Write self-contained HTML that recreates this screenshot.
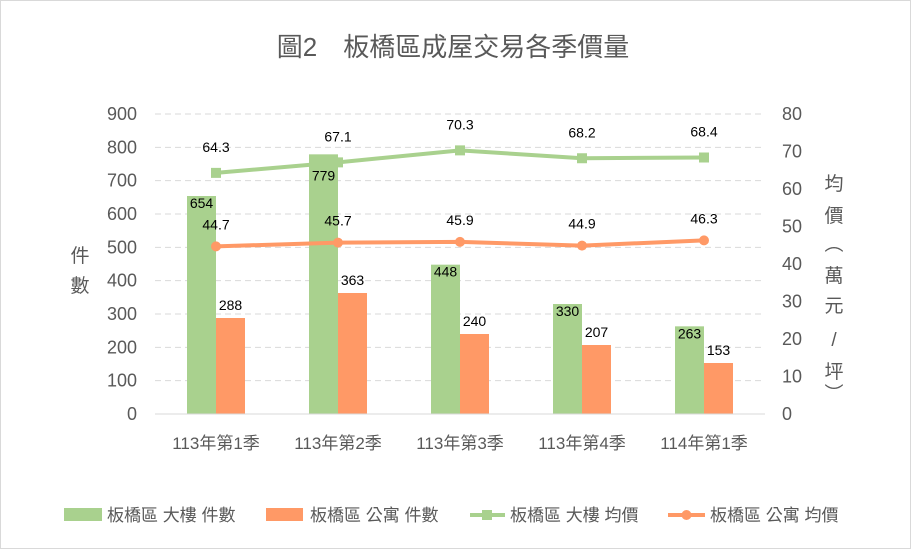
<!DOCTYPE html>
<html><head><meta charset="utf-8"><style>
body{margin:0;background:#fff}
svg text{font-family:"Liberation Sans","Noto Sans CJK TC",sans-serif}
</style></head><body>
<svg width="912" height="550" xmlns="http://www.w3.org/2000/svg" id="chart">
<rect x="0.5" y="0.5" width="910" height="548" fill="#fff" stroke="#d9d9d9"/>
<text x="453" y="56" text-anchor="middle" font-size="26" fill="#595959">圖2　板橋區成屋交易各季價量</text>
<g id="grid"></g><g id="bars"></g><g id="lines"></g><g id="axes"></g>
<text x="80" y="262" font-size="19" fill="#595959" text-anchor="middle"><tspan x="80" dy="0">件</tspan><tspan x="80" dy="30">數</tspan></text>
<text font-size="19" fill="#595959" text-anchor="middle"><tspan x="834" y="190">均</tspan><tspan x="834" y="222">價</tspan><tspan x="834" y="250">︵</tspan><tspan x="834" y="282">萬</tspan><tspan x="834" y="312">元</tspan><tspan x="834" y="346">/</tspan><tspan x="834" y="378">坪</tspan><tspan x="834" y="400">︶</tspan></text>
<g font-size="17" fill="#595959">
<rect x="64" y="508" width="38" height="13" fill="#a9d18e"/>
<text x="107" y="521">板橋區 大樓 件數</text>
<rect x="266" y="508" width="37" height="13" fill="#ff9966"/>
<text x="310" y="521">板橋區 公寓 件數</text>
<line x1="470" y1="515" x2="505" y2="515" stroke="#a9d18e" stroke-width="4"/>
<rect x="482" y="510" width="10" height="10" fill="#a9d18e"/>
<text x="510" y="521">板橋區 大樓 均價</text>
<line x1="668" y1="515" x2="705" y2="515" stroke="#ff9966" stroke-width="4"/>
<circle cx="686.5" cy="515" r="5" fill="#ff9966"/>
<text x="710" y="521">板橋區 公寓 均價</text>
</g>
</svg>
<script>
const categories=["113年第1季","113年第2季","113年第3季","113年第4季","114年第1季"];
const buildingCount=[654,779,448,330,263];
const apartmentCount=[288,363,240,207,153];
const buildingPrice=[64.3,67.1,70.3,68.2,68.4];
const apartmentPrice=[44.7,45.7,45.9,44.9,46.3];
const leftTicks=[0,100,200,300,400,500,600,700,800,900];
const rightTicks=[0,10,20,30,40,50,60,70,80];
const NS="http://www.w3.org/2000/svg";
const x0=155,x1=765,yB=414,yT=114;
const band=(x1-x0)/categories.length;
const cx=i=>x0+band*(i+0.5);
const yL=v=>yB-(v/900)*(yB-yT);
const yR=v=>yB-(v/80)*(yB-yT);
function mk(p,tag,a){const e=document.createElementNS(NS,tag);for(const k in a)e.setAttribute(k,a[k]);p.appendChild(e);return e;}
const grid=document.getElementById('grid'),bars=document.getElementById('bars'),lines=document.getElementById('lines'),axes=document.getElementById('axes');
leftTicks.forEach(t=>{
 if(t>0){const g=mk(grid,'line',{x1:x0,x2:x1,y1:yL(t),y2:yL(t),stroke:'#d9d9d9','stroke-dasharray':'6,4'});
 
 }
 const tx=mk(axes,'text',{x:137,y:yL(t)+6,'text-anchor':'end','font-size':18,fill:'#595959'});tx.textContent=t;
 
 
});
rightTicks.forEach(t=>{
 const tx=mk(axes,'text',{x:782,y:yR(t)+6,'font-size':18,fill:'#595959'});tx.textContent=t;
 
 
});
const ax=mk(axes,'line',{x1:x0,x2:x1,y1:yB,y2:yB,stroke:'#d9d9d9'});


const bw=29;
categories.forEach((c,i)=>{
 const t=mk(axes,'text',{x:cx(i),y:yB+35,'text-anchor':'middle','font-size':17,fill:'#595959'});t.textContent=c;
 
 
 const b=mk(bars,'rect',{x:cx(i)-bw,y:yL(buildingCount[i]),width:bw,height:yB-yL(buildingCount[i]),fill:'#a9d18e'});
 
 
 const o=mk(bars,'rect',{x:cx(i),y:yL(apartmentCount[i]),width:bw,height:yB-yL(apartmentCount[i]),fill:'#ff9966'});
 
 
 const yl=yL(buildingCount[i]);
 const off=(Math.abs(yl-yR(buildingPrice[i]))<22)?26:12;
 const l1=mk(bars,'text',{x:cx(i)-bw/2,y:yl+off,'text-anchor':'middle','font-size':14,fill:'#000'});l1.textContent=buildingCount[i];
 
 
 const l2=mk(bars,'text',{x:cx(i)+bw/2,y:yL(apartmentCount[i])-8,'text-anchor':'middle','font-size':14,fill:'#000'});l2.textContent=apartmentCount[i];
 
 
});
function series(vals,color,marker,name,dy){
 const pl=mk(lines,'polyline',{points:vals.map((v,i)=>cx(i)+','+yR(v)).join(' '),fill:'none',stroke:color,'stroke-width':4});
 
 
 vals.forEach((v,i)=>{
  let m;
  if(marker==='sq') m=mk(lines,'rect',{x:cx(i)-5,y:yR(v)-5,width:10,height:10,fill:color});
  else m=mk(lines,'circle',{cx:cx(i),cy:yR(v),r:5,fill:color});
  
  
  const t=mk(lines,'text',{x:cx(i),y:yR(v)-dy,'text-anchor':'middle','font-size':14,fill:'#000'});t.textContent=v.toFixed(1);
  
  
 });
}
series(buildingPrice,'#a9d18e','sq','building-price',21);
series(apartmentPrice,'#ff9966','circle','apartment-price',17);
</script>
</body></html>
